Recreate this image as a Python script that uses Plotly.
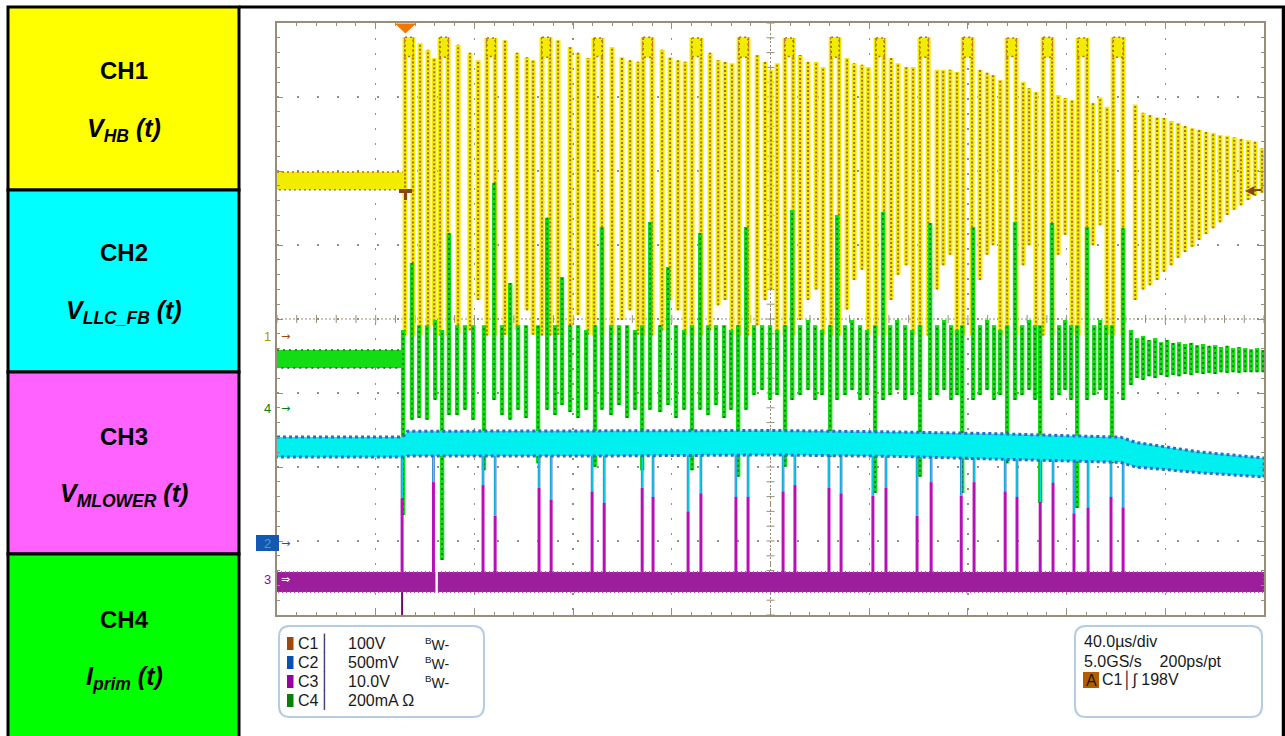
import plotly.graph_objects as go

# ---------------- scope settings ----------------
T_START, T_END = -51.9, 348.1          # µs, 40 µs/div, trigger at 0
N_XDIV, N_YDIV = 10, 8
CH1_SCALE, CH1_GND = 100.0, 3.757      # V/div, ground marker (div from bottom)
CH4_SCALE, CH4_GND = 200.0, 2.797      # mA/div
CH2_SCALE, CH2_GND = 500.0, 0.973      # mV/div
CH3_SCALE, CH3_GND = 10.0, 0.486       # V/div

# ---------------- CH1 : V_HB (V) ----------------
CH1_PRE_T = [-51.9, 0.0]
CH1_PRE_HI = [223, 223]
CH1_PRE_LO = [199, 199]

CH1_SW_T = [6.1, 9.3, 11.8,
            21.5, 26.3, 29.6,
            40.5, 45.4, 49.4, 51.9,
            62.0, 66.9, 70.1, 74.2,
            83.9, 87.9, 91.2, 94.4,
            104.2, 107.4, 110.6, 113.5,
            123.6, 126.9, 129.7, 132.5,
            142.7, 145.9, 148.3, 150.8,
            160.1, 163.3, 166.6, 169.4,
            179.1, 182.0, 185.2, 187.7,
            197.0, 199.8, 203.1, 205.9,
            215.6, 218.1, 220.9, 223.7,
            233.0, 235.9, 238.3, 241.2,
            250.5, 252.9, 255.7,
            264.7, 267.5, 270.3,
            278.8, 281.7, 284.5,
            295.9, 299.1, 301.9, 304.8, 307.6, 310.5, 313.3, 316.1, 319.0, 321.8,
            324.6, 327.5, 330.3, 333.2, 336.0, 338.8, 341.7, 344.5, 347.3]
CH1_SW_HI = [397, 388, 377,
             395, 384, 374,
             401, 384, 378, 374,
             401, 392, 384, 377,
             392, 378, 374, 372,
             388, 378, 374, 372,
             384, 374, 372, 370,
             381, 372, 361, 370,
             381, 372, 372, 365,
             377, 370, 368, 365,
             377, 370, 365, 365,
             361, 361, 361, 358,
             361, 357, 354, 347,
             345, 336, 331,
             327, 323, 320,
             316, 324, 311,
             314, 303, 300, 297, 296, 292, 289, 285, 282, 280,
             277, 276, 273, 272, 270, 268, 266, 264, 255]
CH1_SW_LO = [3, 9, 16,
             5, 9, 50,
             3, 9, 36, 3,
             3, 16, 30, 3,
             3, 23, 36, 3,
             9, 50, 36, 3,
             9, 43, 50, 3,
             16, 50, 64, 3,
             23, 50, 64, 3,
             37, 77, 91, 3,
             50, 84, 97, 3,
             64, 97, 111, 3,
             77, 111, 124, 3,
             97, 124, 3,
             111, 138, 3,
             124, 151, 3,
             50, 64, 70, 77, 88, 97, 107, 115, 122, 131,
             139, 147, 155, 165, 172, 178, 185, 191, 195]

CH1_FLAT_T0 = [0.0, 14.2, 33.2, 55.5, 76.6, 96.5, 116.3, 135.4, 154.0, 172.7,
               190.9, 208.7, 226.2, 244.0, 258.6, 272.8, 287.0]
CH1_FLAT_T1 = [3.2, 17.4, 36.5, 58.8, 79.8, 100.1, 120.0, 139.0, 157.3, 175.9,
               194.1, 212.0, 229.8, 247.6, 262.2, 276.4, 291.0]
CH1_FLAT_HI = [405, 405, 404, 405, 404, 405, 404, 405, 404, 405,
               404, 405, 405, 404, 405, 404, 405]
CH1_FLAT_CAP = [379, 378, 379, 378, 379, 378, 379, 378, 379, 378,
                379, 378, 378, 379, 378, 379, 378]
CH1_FLAT_LO = [2, 2, 2, 2, 2, 2, 2, 2, 2, 2, 2, 2, 2, 2, 2, 2, 2]

# ---------------- CH4 : I_prim (mA) ----------------
CH4_PRE_T = [-51.9, -0.8]
CH4_PRE_HI = [157, 157]
CH4_PRE_LO = [108, 108]

CH4_T = [-0.8, 2.8, 5.7, 8.9, 12.2,
         15.0, 17.8, 21.1, 24.3, 27.6,
         32.0, 36.1, 39.3, 42.6, 45.8, 49.0,
         53.9, 57.6, 60.8, 63.6, 66.9, 70.1, 73.4,
         77.0, 79.8, 83.5, 86.7, 90.0, 93.2,
         96.1, 99.3, 103.4, 106.6, 109.8, 113.1,
         116.3, 119.6, 122.8, 126.0, 129.3, 132.1,
         135.0, 138.2, 141.4, 144.7, 147.9, 150.8,
         154.0, 156.9, 160.1, 163.3, 166.2, 169.0,
         172.3, 175.1, 178.3, 181.2, 184.4, 187.2,
         190.5, 193.7, 196.6, 199.4, 202.7, 205.5,
         208.7, 212.8, 215.6, 218.5, 221.3, 223.7,
         225.8, 230.2, 233.0, 235.9, 238.7, 241.2,
         244.0, 247.2, 250.1, 252.9, 255.3,
         257.4, 262.2, 265.1, 267.5, 269.9,
         272.4, 276.4, 279.3, 281.7, 284.1,
         286.5, 291.0,
         294.2, 296.7, 299.1, 301.5, 304.0, 306.4, 308.8, 311.3, 313.7, 316.1, 318.6, 321.0,
         323.4, 325.9, 328.3, 330.7, 333.2, 335.6, 338.0, 340.5, 342.9, 345.3, 347.7]
CH4_HI = [211, 392, 224, 224, 238,
          211, 473, 224, 224, 224,
          224, 608, 224, 338, 224, 224,
          224, 514, 224, 354, 224, 224, 211,
          224, 489, 224, 224, 224, 211,
          224, 503, 224, 381, 224, 211,
          224, 473, 224, 224, 224, 211,
          224, 489, 224, 224, 224, 211,
          224, 535, 224, 238, 224, 211,
          224, 522, 224, 238, 224, 211,
          224, 530, 224, 238, 224, 211,
          224, 500, 224, 238, 224, 211,
          224, 489, 224, 238, 224, 211,
          224, 503, 224, 238, 224,
          224, 500, 224, 238, 224,
          224, 489, 224, 238, 224,
          224, 486,
          211, 189, 195, 184, 189, 178, 184, 176, 178, 173, 176, 170,
          173, 168, 170, 165, 168, 162, 165, 162, 159, 162, 157]
CH4_LO = [-289, -32, -27, -32, 22,
          -411, -19, -19, -5, -32,
          -168, 22, -19, -32, -5, -27,
          -149, -5, -19, 8, -11, -27, -5,
          -159, -5, -19, 8, -27, -5,
          -168, -5, -11, 8, -27, -5,
          -168, -5, -19, 8, -27, -5,
          -186, -5, 35, 49, 22, 35,
          -159, 22, 35, 49, 22, 35,
          -132, 22, 35, 49, 22, 35,
          -230, 22, 35, 49, 22, 35,
          -186, 22, 35, 49, 22, 35,
          -230, 22, 35, 49, 22, 35,
          -149, 22, 35, 49, 22,
          -257, 22, 35, 49, 22,
          -270, 22, 35, 49, 22,
          -149, 22,
          62, 81, 76, 86, 81, 89, 84, 89, 86, 92, 89, 95,
          92, 95, 92, 97, 95, 97, 95, 97, 97, 97, 97]

# ---------------- CH2 : V_LLC_FB (mV) ----------------
CH2_T = [-51.9, -1.0, 1.0, 80.0, 150.0, 200.0, 241.0, 290.0, 296.0, 322.0, 348.1]
CH2_HI = [716, 716, 755, 755, 760, 750, 738, 715, 680, 615, 574]
CH2_LO = [581, 581, 588, 588, 595, 585, 566, 545, 514, 475, 446]
CH2_SPIKE_TOP = 600
CH2_SPIKE_MIN = [304, 412, 392, 189, 372, 291, 345, 270, 372, 311, 209, 338, 311, 311, 345, 392,
                 372, 338, 324, 372, 189, 412, 324, 412, 345, 311, 277, 405, 203, 243, 311, 243]

# ---------------- CH3 : V_MLOWER (V) ----------------
CH3_BAND_T = [-51.9, 348.1]
CH3_BAND_HI = [0.95, 0.95]
CH3_BAND_LO = [-1.76, -1.76]
CH3_PULSE_T = [-1.2, 11.5, 31.6, 36.5, 54.3, 59.2, 75.8, 80.7, 96.1, 100.5, 114.7, 119.9,
               134.1, 139.0, 153.2, 158.0, 171.8, 176.7, 189.6, 194.9, 207.5, 213.2, 225.4, 230.6,
               243.2, 248.0, 257.4, 262.6, 271.1, 276.8, 286.1, 291.0]
CH3_PULSE_V = [10.9, 13.1, 12.7, 8.6, 12.3, 10.7, 11.8, 10.3, 12.3, 11.1, 9.1, 11.6,
               11.1, 11.1, 11.8, 12.7, 12.3, 11.6, 11.3, 12.3, 8.6, 13.1, 11.3, 13.1,
               11.8, 11.1, 10.4, 13.0, 8.9, 9.7, 11.1, 9.7]
CH3_GAP_T = [12.8]
CH3_TRIG_T = [-1.2]
CH3_TRIG_MIN = [-4.9]

# ---------------- text ----------------
PANEL_TITLES = ["CH1", "CH2", "CH3", "CH4"]
PANEL_SIGNALS = ["V<sub>HB</sub> (t)", "V<sub>LLC_FB</sub> (t)",
                 "V<sub>MLOWER</sub> (t)", "I<sub>prim</sub> (t)"]
PANEL_COLORS = ["#ffff00", "#00ffff", "#ff62ff", "#00ff00"]
INFO_CH = ["C1", "C2", "C3", "C4"]
INFO_SCALE = ["100V", "500mV", "10.0V", "200mA Ω"]
INFO_BW = ["<sup>B</sup>W-", "<sup>B</sup>W-", "<sup>B</sup>W-", ""]
INFO_COLORS = ["#9b4a0c", "#0a50b0", "#9a00a0", "#0a800a"]
TIMEBASE = ["40.0µs/div", "5.0GS/s\u00a0\u00a0\u00a0\u00a0200ps/pt"]
TRIGGER_TXT = "C1│∫ 198V"

# ---------------- colours ----------------
YEL, BROWN = "#f2ec00", "#b06a30"
GRN, DGRN = "#14dc14", "#0a700a"
CYA, BLU = "#00f0f0", "#2a6cc8"
MAG, DMAG, LMAG = "#9c1e9c", "#6e0a6e", "#c640c6"
GRID = "#978d78"
FONT = "Liberation Sans, Arial, sans-serif"


def strokes(ts, his, los):
    xs, ys = [], []
    for t, h, l in zip(ts, his, los):
        xs += [t, t, None]
        ys += [l, h, None]
    return xs, ys


def band(ts, his, los):
    return list(ts) + list(ts)[::-1], list(his) + list(los)[::-1]


fig = go.Figure()

# dummy trace on the graticule axes so that the main subplot exists
fig.add_trace(go.Scatter(x=[T_START], y=[0], mode="markers", marker=dict(size=1, opacity=0),
                         yaxis="y"))

# ----- CH1 (yellow) on y2 -----
bx, by = band(CH1_PRE_T, CH1_PRE_HI, CH1_PRE_LO)
fig.add_trace(go.Scatter(x=bx, y=by, fill="toself", fillcolor=YEL, mode="lines",
                         line=dict(color=BROWN, width=1.6, dash="2px,3px"), yaxis="y2"))
fx, fy = strokes(CH1_FLAT_T0 + CH1_FLAT_T1, CH1_FLAT_HI + CH1_FLAT_HI, CH1_FLAT_LO + CH1_FLAT_LO)
sx, sy = strokes(CH1_SW_T, CH1_SW_HI, CH1_SW_LO)
fig.add_trace(go.Scatter(x=sx + fx, y=sy + fy, mode="lines",
                         line=dict(color=YEL, width=5.0), yaxis="y2"))
fig.add_trace(go.Scatter(x=sx + fx, y=sy + fy, mode="lines",
                         line=dict(color=BROWN, width=2.0, dash="2px,2px"), yaxis="y2"))
cx, cy = [], []
for t0, t1, h, c in zip(CH1_FLAT_T0, CH1_FLAT_T1, CH1_FLAT_HI, CH1_FLAT_CAP):
    cx += [t0, t1, t1, t0, t0, None]
    cy += [h, h, c, c, h, None]
fig.add_trace(go.Scatter(x=cx, y=cy, fill="toself", fillcolor=YEL, mode="lines",
                         line=dict(color=BROWN, width=1.6, dash="2px,3px"), yaxis="y2"))

# ----- CH4 (green) on y3 -----
bx, by = band(CH4_PRE_T, CH4_PRE_HI, CH4_PRE_LO)
fig.add_trace(go.Scatter(x=bx, y=by, fill="toself", fillcolor=GRN, mode="lines",
                         line=dict(color=DGRN, width=1.4, dash="2px,4px"), yaxis="y3"))
gx, gy = strokes(CH4_T, CH4_HI, CH4_LO)
fig.add_trace(go.Scatter(x=gx, y=gy, mode="lines", line=dict(color=GRN, width=4.4), yaxis="y3"))
fig.add_trace(go.Scatter(x=gx, y=gy, mode="lines",
                         line=dict(color=DGRN, width=1.6, dash="2px,3px"), yaxis="y3"))

# ----- CH2 (cyan) on y4 -----
kx, ky = strokes(CH3_PULSE_T, [CH2_SPIKE_TOP] * len(CH3_PULSE_T), CH2_SPIKE_MIN)
fig.add_trace(go.Scatter(x=kx, y=ky, mode="lines", line=dict(color=BLU, width=2.6), yaxis="y4"))
fig.add_trace(go.Scatter(x=kx, y=ky, mode="lines", line=dict(color=CYA, width=1.2), yaxis="y4"))
bx, by = band(CH2_T, CH2_HI, CH2_LO)
fig.add_trace(go.Scatter(x=bx, y=by, fill="toself", fillcolor=CYA, mode="lines",
                         line=dict(color=BLU, width=3.0, dash="3px,3px"), yaxis="y4"))

# ----- CH3 (magenta) on y5 -----
bx, by = band(CH3_BAND_T, CH3_BAND_HI, CH3_BAND_LO)
fig.add_trace(go.Scatter(x=bx, y=by, fill="toself", fillcolor=MAG, mode="lines",
                         line=dict(color=LMAG, width=1.8, dash="1px,3px"), yaxis="y5"))
px_, py_ = strokes(CH3_PULSE_T, CH3_PULSE_V, [CH3_BAND_HI[0]] * len(CH3_PULSE_T))
fig.add_trace(go.Scatter(x=px_, y=py_, mode="lines", line=dict(color="#b80fb8", width=3.0),
                         yaxis="y5"))
wx, wy = strokes(CH3_GAP_T, [CH3_BAND_HI[0] + 0.2], [CH3_BAND_LO[0] - 0.2])
fig.add_trace(go.Scatter(x=wx, y=wy, mode="lines", line=dict(color="white", width=2.4), yaxis="y5"))
tx, ty = strokes(CH3_TRIG_T, [CH3_BAND_LO[0]], CH3_TRIG_MIN)
fig.add_trace(go.Scatter(x=tx, y=ty, mode="lines", line=dict(color=DMAG, width=2), yaxis="y5"))

for tr in fig.data:
    tr.hoverinfo = "skip"
    tr.showlegend = False


def yrange(scale, gnd):
    return [-gnd * scale, (N_YDIV - gnd) * scale]


def hidden(scale, gnd):
    return dict(overlaying="y", range=yrange(scale, gnd), showgrid=False, zeroline=False,
                showline=False, showticklabels=False, ticks="", fixedrange=True)


W, H = 1285, 736
ML, MR, MT, MB = 277, 21, 23, 121
PW, PH = W - ML - MR, H - MT - MB


def P(xp):
    return (xp - ML) / PW


def Q(yp):
    return (H - MB - yp) / PH


fig.update_layout(
    width=W, height=H, autosize=False,
    margin=dict(l=ML, r=MR, t=MT, b=MB, pad=0),
    paper_bgcolor="white", plot_bgcolor="rgba(0,0,0,0)", showlegend=False,
    xaxis=dict(range=[T_START, T_END], dtick=40, tick0=T_START, showgrid=True,
               gridcolor=GRID, griddash="2px,13px", gridwidth=1.4,
               ticks="inside", ticklen=6, tickcolor=GRID, showticklabels=False,
               showline=True, linecolor=GRID, linewidth=2, mirror="ticks", zeroline=False,
               minor=dict(dtick=8, tick0=T_START, ticks="inside", ticklen=3, tickcolor=GRID,
                          showgrid=False),
               fixedrange=True),
    yaxis=dict(range=[0, N_YDIV], dtick=1, tick0=0, showgrid=True,
               gridcolor=GRID, griddash="2px,18px", gridwidth=1.4,
               ticks="inside", ticklen=6, tickcolor=GRID, showticklabels=False,
               showline=True, linecolor=GRID, linewidth=2, mirror="ticks", zeroline=False,
               minor=dict(dtick=0.2, tick0=0, ticks="inside", ticklen=3, tickcolor=GRID,
                          showgrid=False),
               fixedrange=True),
    yaxis2=hidden(CH1_SCALE, CH1_GND),
    yaxis3=hidden(CH4_SCALE, CH4_GND),
    yaxis4=hidden(CH2_SCALE, CH2_GND),
    yaxis5=hidden(CH3_SCALE, CH3_GND),
)

shapes = []
anns = []

# graticule centre lines with ticks
shapes.append(dict(type="line", xref="paper", yref="paper", x0=0.5, x1=0.5, y0=0, y1=1,
                   line=dict(color=GRID, width=1, dash="2px,2px"), layer="below"))
shapes.append(dict(type="line", xref="paper", yref="paper", x0=0, x1=1, y0=0.5, y1=0.5,
                   line=dict(color=GRID, width=1, dash="2px,2px"), layer="below"))
path = ""
for k in range(N_XDIV * 5 + 1):
    x = k / (N_XDIV * 5)
    path += f"M{x:.5f},{0.5 - 4 / PH:.5f}L{x:.5f},{0.5 + 4 / PH:.5f}"
for k in range(N_YDIV * 5 + 1):
    y = k / (N_YDIV * 5)
    path += f"M{0.5 - 4 / PW:.5f},{y:.5f}L{0.5 + 4 / PW:.5f},{y:.5f}"
shapes.append(dict(type="path", xref="paper", yref="paper", path=path,
                   line=dict(color=GRID, width=1), layer="below"))

# left label panel
edges = [7, 190, 372, 554, 740]
title_y = [71, 252, 436, 619]
signal_y = [130, 312, 495, 678]
for i in range(4):
    shapes.append(dict(type="rect", xref="paper", yref="paper",
                       x0=P(8), x1=P(239), y0=Q(edges[i + 1]), y1=Q(edges[i]),
                       fillcolor=PANEL_COLORS[i], line=dict(color="black", width=3)))
    anns.append(dict(x=P(124), y=Q(title_y[i]), xref="paper", yref="paper", showarrow=False,
                     xanchor="center", yanchor="middle",
                     text=f"<b>{PANEL_TITLES[i]}</b>",
                     font=dict(family=FONT, size=24, color="black")))
    anns.append(dict(x=P(124), y=Q(signal_y[i]), xref="paper", yref="paper", showarrow=False,
                     xanchor="center", yanchor="middle",
                     text=f"<b><i>{PANEL_SIGNALS[i]}</i></b>",
                     font=dict(family=FONT, size=25, color="black")))
# outer black frame lines
shapes.append(dict(type="line", xref="paper", yref="paper", x0=P(239), x1=P(1285),
                   y0=Q(7), y1=Q(7), line=dict(color="black", width=3)))
shapes.append(dict(type="line", xref="paper", yref="paper", x0=P(1283.5), x1=P(1283.5),
                   y0=Q(7), y1=Q(740), line=dict(color="black", width=3.5)))


def rounded(x0, y0, x1, y1, r):
    return (f"M{P(x0 + r)},{Q(y0)} L{P(x1 - r)},{Q(y0)} Q{P(x1)},{Q(y0)} {P(x1)},{Q(y0 + r)} "
            f"L{P(x1)},{Q(y1 - r)} Q{P(x1)},{Q(y1)} {P(x1 - r)},{Q(y1)} "
            f"L{P(x0 + r)},{Q(y1)} Q{P(x0)},{Q(y1)} {P(x0)},{Q(y1 - r)} "
            f"L{P(x0)},{Q(y0 + r)} Q{P(x0)},{Q(y0)} {P(x0 + r)},{Q(y0)} Z")


shapes.append(dict(type="path", xref="paper", yref="paper", path=rounded(279, 626, 484, 717, 11),
                   line=dict(color="#b4cce4", width=2)))
shapes.append(dict(type="path", xref="paper", yref="paper", path=rounded(1075, 626, 1262, 717, 11),
                   line=dict(color="#b4cce4", width=2)))

rows = [643, 662, 681, 700]
txtfont = dict(family=FONT, size=16, color="#1a1a1a")


def label(xp, yp, text, font=txtfont, xanchor="left"):
    anns.append(dict(x=P(xp), y=Q(yp), xref="paper", yref="paper", showarrow=False,
                     xanchor=xanchor, yanchor="middle", text=text, font=font))


for i in range(4):
    shapes.append(dict(type="rect", xref="paper", yref="paper", x0=P(287), x1=P(293.5),
                       y0=Q(rows[i] + 7), y1=Q(rows[i] - 6), fillcolor=INFO_COLORS[i],
                       line=dict(width=0)))
    label(296, rows[i], INFO_CH[i])
    label(318, rows[i], "│")
    label(346, rows[i], INFO_SCALE[i])
    if INFO_BW[i]:
        label(423, rows[i] + 1, INFO_BW[i], dict(family=FONT, size=14, color="#1a1a1a"))

label(1082, 641, TIMEBASE[0])
label(1082, 661, TIMEBASE[1])
shapes.append(dict(type="rect", xref="paper", yref="paper", x0=P(1083), x1=P(1099),
                   y0=Q(688), y1=Q(672), fillcolor="#b35c00", line=dict(width=0)))
label(1091, 680, "A", xanchor="center")
label(1100, 680, TRIGGER_TXT)

# channel ground markers
mk = dict(family=FONT, size=13)


def marker(yref, text, color, arrowcolor, xp=267, arrow="→"):
    anns.append(dict(x=P(xp), y=0, xref="paper", yref=yref, showarrow=False, text=text,
                     xanchor="center", yanchor="middle", font=dict(mk, color=color)))
    anns.append(dict(x=P(285), y=0, xref="paper", yref=yref, showarrow=False, text=arrow,
                     xanchor="center", yanchor="middle",
                     font=dict(family="DejaVu Sans", size=11, color=arrowcolor)))


marker("y2", "1", "#a89a00", "#9b4a0c")
marker("y3", "4", "#0a800a", "#0a800a")
shapes.append(dict(type="rect", xref="paper", yref="paper", x0=P(256), x1=P(279),
                   y0=Q(551), y1=Q(535), fillcolor="#1458b4", line=dict(width=0)))
marker("y4", "2", "#3aa8b8", "#1458b4", xp=267.5)
marker("y5", "3", "#a000a0", "white", arrow="⇒")

# trigger position (top) and trigger level markers
shapes.append(dict(type="path", xref="paper", yref="paper",
                   path=f"M{P(396)},{Q(24)} L{P(415)},{Q(24)} L{P(405.5)},{Q(33)} Z",
                   fillcolor="#f07800", line=dict(color="#f07800", width=1)))
shapes.append(dict(type="path", xref="paper", yref="paper",
                   path=(f"M{P(399)},{Q(189)} L{P(412)},{Q(189)} L{P(412)},{Q(193)} "
                         f"L{P(407)},{Q(193)} L{P(407)},{Q(200)} L{P(404)},{Q(200)} "
                         f"L{P(404)},{Q(193)} L{P(399)},{Q(193)} Z"),
                   fillcolor="#8b4513", line=dict(width=0)))
anns.append(dict(x=P(1253), y=198, xref="paper", yref="y2", showarrow=False, text="◀━",
                 xanchor="center", yanchor="middle",
                 font=dict(family="DejaVu Sans", size=12, color="#8b4513")))

fig.update_layout(shapes=shapes, annotations=anns)

fig.write_html("out.html", config={"displayModeBar": False, "staticPlot": True},
               post_script="document.body.style.margin='0px';document.body.style.overflow='hidden';")
